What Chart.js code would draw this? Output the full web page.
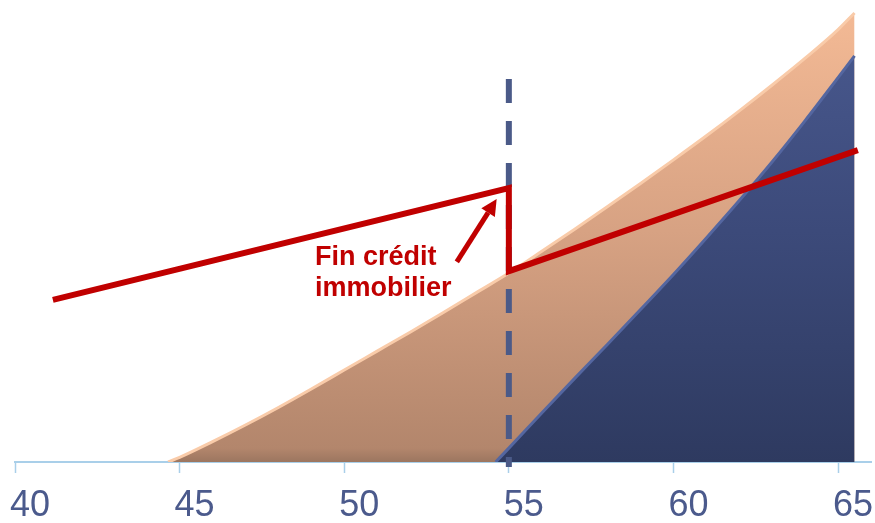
<!DOCTYPE html>
<html>
<head>
<meta charset="utf-8">
<script src="https://cdn.jsdelivr.net/npm/chart.js@4.4.1/dist/chart.umd.min.js"></script>
<style>
  html, body { margin: 0; padding: 0; background: #ffffff; }
  #wrap { width: 875px; height: 523px; position: relative; }
</style>
</head>
<body>
<div id="wrap"><canvas id="chart"></canvas></div>
<script>
  // x = age, y = arbitrary units (0..100)
  const xTicks = [40, 45, 50, 55, 60, 65];

  // peach area
  const peachX = [44.65, 45, 46, 47, 48, 49, 50, 51, 52, 53, 54, 55, 56, 57, 58, 59, 60, 61, 62, 63, 64, 65, 65.5];
  const peachY = [0, 1.0, 4.4, 8.0, 11.8, 15.8, 19.9, 24.0, 28.1, 32.3, 36.6, 40.9, 45.6, 50.4, 55.3, 60.3, 65.4, 70.6, 76.0, 81.6, 87.4, 93.6, 97.2];

  // blue area
  const blueX = [54.6, 55, 56, 57, 58, 59, 60, 61, 62, 63, 64, 65, 65.5];
  const blueY = [0, 3.0, 10.6, 18.1, 25.5, 33.0, 40.6, 48.5, 56.6, 65.0, 73.9, 83.2, 87.9];

  // red line (drop at 55)
  const redX = [41.15, 55, 55, 65.6];
  const redY = [35.1, 59.3, 41.3, 67.5];

  // dashed marker at 55
  const markX = [55, 55];
  const markY = [82.9, -1.1];

  // annotation
  const noteLines = ['Fin crédit', 'immobilier'];
  const noteAt = { x: 49.11, y: 42.6 };   // left / baseline of first line
  const arrowFrom = { x: 53.42, y: 43.3 };
  const arrowTo = { x: 54.63, y: 56.9 };

  const pts = (xs, ys) => xs.map((x, i) => ({ x: x, y: ys[i] }));

  function vGrad(context, stops) {
    const { ctx, chartArea } = context.chart;
    if (!chartArea) return stops[0][1];
    const g = ctx.createLinearGradient(0, chartArea.top, 0, chartArea.bottom);
    stops.forEach(s => g.addColorStop(s[0], s[1]));
    return g;
  }

  const notePlugin = {
    id: 'note',
    afterDatasetsDraw(chart) {
      const ctx = chart.ctx;
      const xs = chart.scales.x, ys = chart.scales.y;
      ctx.save();
      // text
      ctx.fillStyle = '#c00000';
      ctx.font = 'bold 27px "Liberation Sans", Arial, sans-serif';
      ctx.textAlign = 'left';
      ctx.textBaseline = 'alphabetic';
      const tx = xs.getPixelForValue(noteAt.x);
      const ty = ys.getPixelForValue(noteAt.y);
      noteLines.forEach((t, i) => ctx.fillText(t, tx, ty + i * 31));
      // arrow
      const x0 = xs.getPixelForValue(arrowFrom.x), y0 = ys.getPixelForValue(arrowFrom.y);
      const x1 = xs.getPixelForValue(arrowTo.x), y1 = ys.getPixelForValue(arrowTo.y);
      const a = Math.atan2(y1 - y0, x1 - x0);
      const head = 16, half = 8;
      const bx = x1 - head * Math.cos(a), by = y1 - head * Math.sin(a);
      ctx.strokeStyle = '#c00000';
      ctx.lineWidth = 5;
      ctx.beginPath();
      ctx.moveTo(x0, y0);
      ctx.lineTo(bx, by);
      ctx.stroke();
      ctx.beginPath();
      ctx.moveTo(x1, y1);
      ctx.lineTo(bx + half * Math.sin(a), by - half * Math.cos(a));
      ctx.lineTo(bx - half * Math.sin(a), by + half * Math.cos(a));
      ctx.closePath();
      ctx.fill();
      ctx.restore();
    }
  };

  new Chart(document.getElementById('chart'), {
    type: 'line',
    data: {
      datasets: [
        {
          data: pts(redX, redY),
          borderColor: '#c00000',
          borderWidth: 6,
          pointRadius: 0,
          tension: 0,
          fill: false,
          order: 0
        },
        {
          data: pts(markX, markY),
          borderColor: '#4b5a88',
          borderWidth: 6,
          borderDash: [24, 18],
          borderCapStyle: 'butt',
          pointRadius: 0,
          fill: false,
          clip: false,
          order: 1
        },
        {
          data: pts(blueX, blueY),
          borderColor: '#5466a0',
          borderWidth: 3,
          pointRadius: 0,
          cubicInterpolationMode: 'monotone',
          fill: 'origin',
          backgroundColor: c => vGrad(c, [[0, '#4a5a90'], [0.5, '#3c4a7a'], [1, '#2e3a60']]),
          order: 2
        },
        {
          data: pts(peachX, peachY),
          borderColor: '#f9cba9',
          borderWidth: 3,
          pointRadius: 0,
          cubicInterpolationMode: 'monotone',
          fill: 'origin',
          backgroundColor: c => vGrad(c, [[0, '#f5bb96'], [0.5, '#d7a283'], [0.97, '#b3866c'], [1, '#9c7660']]),
          order: 3
        }
      ]
    },
    options: {
      responsive: true,
      maintainAspectRatio: false,
      animation: false,
      layout: { padding: { left: 15, right: 4, top: 0, bottom: 0 } },
      plugins: {
        legend: { display: false },
        tooltip: { enabled: false }
      },
      scales: {
        x: {
          type: 'linear',
          min: 40,
          max: 66,
          afterBuildTicks: s => { s.ticks = xTicks.map(v => ({ value: v })); },
          afterFit: s => { s.height = 61; s.paddingLeft = 0; s.paddingRight = 0; },
          grid: {
            drawOnChartArea: false,
            drawTicks: true,
            tickLength: 11,
            tickWidth: 1.5,
            color: '#a9cfe9'
          },
          border: { display: true, color: '#a9cfe9', width: 2 },
          ticks: {
            autoSkip: false,
            maxRotation: 0,
            padding: 11,
            labelOffset: 15,
            color: '#4b5a8c',
            font: { family: '"Liberation Sans", Arial, sans-serif', size: 36 }
          }
        },
        y: {
          display: false,
          min: 0,
          max: 100
        }
      }
    },
    plugins: [notePlugin]
  });
</script>
</body>
</html>
